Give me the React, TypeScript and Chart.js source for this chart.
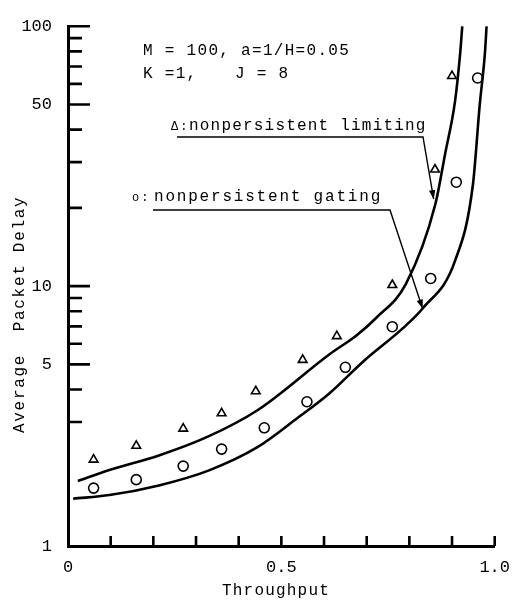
import React, { useEffect, useRef } from "react";
import { Chart, registerables } from "chart.js";

Chart.register(...registerables);

// ---- Data ----
// analytic curve: nonpersistent limiting (upper curve)
const limitingCurveX = [0.023, 0.097, 0.213, 0.329, 0.444, 0.613, 0.676, 0.722, 0.792, 0.861, 0.884, 0.907, 0.919, 0.924];
const limitingCurveY = [1.78, 1.96, 2.23, 2.64, 3.33, 5.47, 6.46, 7.54, 10.2, 20.7, 32.4, 51.4, 78.4, 100];
// analytic curve: nonpersistent gating (lower curve)
const gatingCurveX = [0.012, 0.097, 0.213, 0.329, 0.444, 0.537, 0.613, 0.692, 0.785, 0.831, 0.907, 0.949, 0.965, 0.977, 0.981];
const gatingCurveY = [1.52, 1.57, 1.71, 1.95, 2.4, 3.1, 3.87, 5.13, 6.89, 8.2, 12.5, 24.6, 50, 78.4, 100];
// simulation points: triangles (limiting)
const limitingSimX = [0.06, 0.16, 0.27, 0.36, 0.44, 0.55, 0.63, 0.76, 0.86, 0.9];
const limitingSimY = [2.15, 2.43, 2.83, 3.24, 3.94, 5.2, 6.42, 10.1, 28.1, 64.3];
// simulation points: circles (gating)
const gatingSimX = [0.06, 0.16, 0.27, 0.36, 0.46, 0.56, 0.65, 0.76, 0.85, 0.91, 0.96];
const gatingSimY = [1.67, 1.8, 2.03, 2.36, 2.85, 3.59, 4.87, 6.98, 10.7, 25.1, 63.2];

// ---- Ticks and text ----
const xTickValues = [0, 0.5, 1];
const xTickLabels = ["0", "0.5", "1.0"];
const xTickMarks = [0.1, 0.2, 0.3, 0.4, 0.5, 0.6, 0.7, 0.8, 0.9, 1.0];
const yTickValues = [1, 5, 10, 50, 100];
const yTickLabels = ["1", "5", "10", "50", "100"];
const yMajorMarks = [5, 10, 50, 100];
const yMinorMarks = [3, 4, 6, 7, 8, 9, 20, 30, 40, 60, 70, 80, 90];
const paramText1 = "M = 100, a=1/H=0.05";
const paramText2a = "K =1,";
const paramText2b = "J = 8";
const limitingMarker = "Δ:";
const limitingText = "nonpersistent limiting";
const gatingMarker = "o:";
const gatingText = "nonpersistent gating";
const xTitle = "Throughput";
const yTitle = "Average  Packet Delay";
// arrow tips (data coordinates, on the curves)
const limitingTip = { x: 0.857, y: 21.6 };
const gatingTip = { x: 0.831, y: 8.2 };

const toPoints = (xs: number[], ys: number[]) => xs.map((x, i) => ({ x, y: ys[i] }));

const MONO = '"Liberation Mono", "DejaVu Sans Mono", monospace';

function arrowHead(ctx: CanvasRenderingContext2D, fx: number, fy: number, tx: number, ty: number) {
  const ang = Math.atan2(ty - fy, tx - fx);
  const len = 9;
  const half = 3.2;
  ctx.beginPath();
  ctx.moveTo(tx, ty);
  ctx.lineTo(tx - len * Math.cos(ang) + half * Math.sin(ang), ty - len * Math.sin(ang) - half * Math.cos(ang));
  ctx.lineTo(tx - len * Math.cos(ang) - half * Math.sin(ang), ty - len * Math.sin(ang) + half * Math.cos(ang));
  ctx.closePath();
  ctx.fill();
}

const decorPlugin = {
  id: "decor",
  afterDraw(chart: any) {
    const ctx: CanvasRenderingContext2D = chart.ctx;
    const xs = chart.scales.x;
    const ys = chart.scales.y;
    const area = chart.chartArea;
    ctx.save();
    ctx.strokeStyle = "#000";
    ctx.fillStyle = "#000";
    ctx.lineCap = "butt";

    // inward tick marks
    ctx.lineWidth = 2.6;
    ctx.beginPath();
    xTickMarks.forEach((v) => {
      const px = xs.getPixelForValue(v);
      ctx.moveTo(px, area.bottom);
      ctx.lineTo(px, area.bottom - 10);
    });
    yMajorMarks.forEach((v) => {
      const py = ys.getPixelForValue(v);
      ctx.moveTo(area.left, py);
      ctx.lineTo(area.left + 22, py);
    });
    yMinorMarks.forEach((v) => {
      const py = ys.getPixelForValue(v);
      ctx.moveTo(area.left, py);
      ctx.lineTo(area.left + 14, py);
    });
    ctx.stroke();

    // texts
    const anyCtx = ctx as any;
    ctx.textBaseline = "alphabetic";
    ctx.textAlign = "left";
    ctx.font = `16px ${MONO}`;
    anyCtx.letterSpacing = "1.3px";
    ctx.fillText(paramText1, 143, 55);
    ctx.fillText(paramText2a, 143, 78);
    ctx.fillText(paramText2b, 235, 78);

    anyCtx.letterSpacing = "1.2px";
    ctx.fillText(limitingText, 189, 130);
    anyCtx.letterSpacing = "1.8px";
    ctx.fillText(gatingText, 154, 201);

    anyCtx.letterSpacing = "2px";
    ctx.font = `12px ${MONO}`;
    ctx.fillText(limitingMarker, 171, 130);
    ctx.fillText(gatingMarker, 132, 201);

    // leader lines with arrows
    ctx.lineWidth = 1.4;
    const lt = { x: xs.getPixelForValue(limitingTip.x), y: ys.getPixelForValue(limitingTip.y) };
    ctx.beginPath();
    ctx.moveTo(177, 137);
    ctx.lineTo(423, 137);
    ctx.lineTo(lt.x, lt.y);
    ctx.stroke();
    arrowHead(ctx, 423, 137, lt.x, lt.y);

    const gt = { x: xs.getPixelForValue(gatingTip.x), y: ys.getPixelForValue(gatingTip.y) };
    ctx.beginPath();
    ctx.moveTo(153, 210);
    ctx.lineTo(390, 210);
    ctx.lineTo(gt.x, gt.y);
    ctx.stroke();
    arrowHead(ctx, 390, 210, gt.x, gt.y);

    // axis titles
    ctx.font = `16px ${MONO}`;
    anyCtx.letterSpacing = "1.2px";
    ctx.fillText(xTitle, 222, 595);

    anyCtx.letterSpacing = "1.7px";
    ctx.translate(20, 433);
    ctx.rotate(-Math.PI / 2);
    ctx.textBaseline = "middle";
    ctx.fillText(yTitle, 0, 0);
    ctx.restore();
  },
};

const bgPlugin = {
  id: "bg",
  beforeDraw(chart: any) {
    const ctx = chart.ctx;
    ctx.save();
    ctx.fillStyle = "#fff";
    ctx.fillRect(0, 0, chart.width, chart.height);
    ctx.restore();
  },
};

export default function App() {
  const canvasRef = useRef<HTMLCanvasElement | null>(null);

  useEffect(() => {
    if (!canvasRef.current) return;
    const chart = new Chart(canvasRef.current, {
      type: "scatter",
      data: {
        datasets: [
          {
            label: "nonpersistent limiting (analysis)",
            data: toPoints(limitingCurveX, limitingCurveY),
            showLine: true,
            borderColor: "#000",
            borderWidth: 2.6,
            pointRadius: 0,
            cubicInterpolationMode: "monotone",
            fill: false,
          },
          {
            label: "nonpersistent gating (analysis)",
            data: toPoints(gatingCurveX, gatingCurveY),
            showLine: true,
            borderColor: "#000",
            borderWidth: 2.6,
            pointRadius: 0,
            cubicInterpolationMode: "monotone",
            fill: false,
          },
          {
            label: "nonpersistent limiting (simulation)",
            data: toPoints(limitingSimX, limitingSimY),
            showLine: false,
            pointStyle: "triangle",
            pointRadius: 5,
            pointBorderWidth: 1.6,
            pointBorderColor: "#000",
            pointBackgroundColor: "rgba(255,255,255,0)",
          },
          {
            label: "nonpersistent gating (simulation)",
            data: toPoints(gatingSimX, gatingSimY),
            showLine: false,
            pointStyle: "circle",
            pointRadius: 5,
            pointBorderWidth: 1.6,
            pointBorderColor: "#000",
            pointBackgroundColor: "rgba(255,255,255,0)",
          },
        ] as any,
      },
      options: {
        animation: false,
        responsive: false,
        devicePixelRatio: 1,
        layout: { padding: { top: 13, right: 21, left: 0, bottom: 0 } },
        plugins: {
          legend: { display: false },
          tooltip: { enabled: false },
        },
        scales: {
          x: {
            type: "linear",
            min: 0,
            max: 1,
            grid: { display: false, drawTicks: false },
            border: { display: true, color: "#000", width: 3 },
            afterBuildTicks: (scale: any) => {
              scale.ticks = xTickValues.map((v) => ({ value: v }));
            },
            afterFit: (scale: any) => {
              scale.height = 57;
            },
            ticks: {
              color: "#000",
              padding: 11,
              font: { family: MONO, size: 17 },
              maxRotation: 0,
              autoSkip: false,
              callback: (_v: any, i: number) => xTickLabels[i],
            },
          },
          y: {
            type: "logarithmic",
            min: 1,
            max: 100,
            grid: { display: false, drawTicks: false },
            border: { display: true, color: "#000", width: 3 },
            afterBuildTicks: (scale: any) => {
              scale.ticks = yTickValues.map((v) => ({ value: v }));
            },
            afterFit: (scale: any) => {
              scale.width = 68;
            },
            ticks: {
              color: "#000",
              padding: 16,
              font: { family: MONO, size: 17 },
              autoSkip: false,
              callback: (_v: any, i: number) => yTickLabels[i],
            },
          },
        },
      } as any,
      plugins: [bgPlugin, decorPlugin],
    });
    return () => chart.destroy();
  }, []);

  return (
    <canvas
      ref={canvasRef}
      width={521}
      height={603}
      style={{ position: "absolute", left: 0, top: 0, display: "block" }}
    />
  );
}
